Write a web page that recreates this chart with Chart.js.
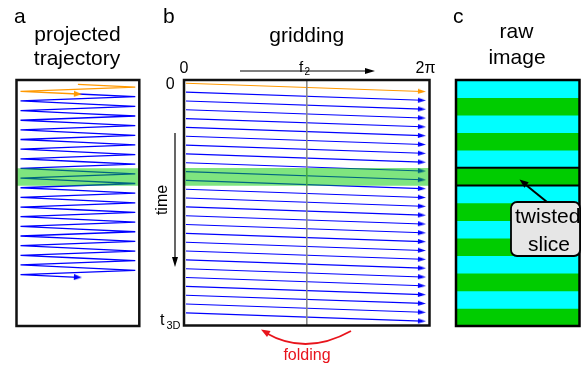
<!DOCTYPE html>
<html>
<head>
<meta charset="utf-8">
<script src="https://cdn.jsdelivr.net/npm/chart.js@4.4.1/dist/chart.umd.min.js"></script>
<style>
    html, body { margin: 0; padding: 0; background: #fff; }
    #wrap { position: relative; width: 581px; height: 367px; overflow: hidden; }
    #wrap canvas { position: absolute; left: 0; top: 0; }
</style>
</head>
<body>
<div id="wrap">
    <canvas id="chart-a" width="581" height="367"></canvas>
    <canvas id="chart-b" width="581" height="367"></canvas>
    <canvas id="chart-c" width="581" height="367"></canvas>
</div>
<script>
// ---- data ----
// a: projected trajectory, one zig-zag per period (first one orange)
const periods = [0, 1, 2, 3, 4, 5, 6, 7, 8, 9, 10, 11, 12, 13, 14, 15, 16, 17, 18, 19];
const passPhase = [0, 0.28, 0.72, 1];   // mid -> right turn -> left turn -> mid
const passX = [0, 1, -1, 0];
const bandA = [8.7, 10.5];
const xRangeA = [-1.07, 1.07];
const yRangeA = [-0.45, 25.05];

// b: gridding, one row per period, phase 0..2pi
const rows = [0, 1, 2, 3, 4, 5, 6, 7, 8, 9, 10, 11, 12, 13, 14, 15, 16, 17, 18, 19, 20, 21, 22, 23, 24, 25, 26];
const rowPhaseStart = 0.05;
const rowPhaseEnd = 6.09;
const rowDrop = 0.93;
const bandB = [9.6, 11.6];
const xRangeB = [0, 2 * Math.PI];
const yRangeB = [-0.37, 27.43];

// c: raw image stripes (each stripe = two rows), the twisted one
const stripes = [1, 1, 1, 1, 1, 1, 1, 1, 1, 1, 1, 1, 1, 1];
const twistedStripe = 5;

// ---- styles ----
const FONT = '"Liberation Sans", Arial, Helvetica, sans-serif';
const ORANGE = '#ff9900';
const BLUE = '#0000ff';
const BAND = 'rgba(0, 204, 0, 0.5)';
const CYAN = '#00ffff';
const GREEN = '#00cc00';
const RED = '#e8141c';

function text(ctx, str, x, y, size, align, color) {
    ctx.save();
    ctx.font = size + 'px ' + FONT;
    ctx.fillStyle = color || '#000';
    ctx.textAlign = align || 'left';
    ctx.textBaseline = 'alphabetic';
    ctx.fillText(str, x, y);
    ctx.restore();
}

function arrowHead(ctx, x, y, angle, len, wid, color) {
    ctx.save();
    ctx.translate(x, y);
    ctx.rotate(angle);
    ctx.beginPath();
    ctx.moveTo(0, 0);
    ctx.lineTo(-len, -wid / 2);
    ctx.lineTo(-len, wid / 2);
    ctx.closePath();
    ctx.fillStyle = color;
    ctx.fill();
    ctx.restore();
}

function arrowImage(color, len, wid) {
    const c = document.createElement('canvas');
    c.width = len;
    c.height = wid;
    const g = c.getContext('2d');
    g.fillStyle = color;
    g.beginPath();
    g.moveTo(0, 0);
    g.lineTo(len, wid / 2);
    g.lineTo(0, wid);
    g.closePath();
    g.fill();
    return c;
}

function frame(chart, color, width) {
    const ctx = chart.ctx, a = chart.chartArea;
    ctx.save();
    ctx.strokeStyle = color;
    ctx.lineWidth = width;
    ctx.strokeRect(a.left, a.top, a.right - a.left, a.bottom - a.top);
    ctx.restore();
}

// arrow head only on the last point of a dataset
const lastOnly = (r) => (ctx) => ctx.dataIndex === ctx.dataset.data.length - 1 ? r : 0;

function baseOptions(padding, xr, yr) {
    return {
        responsive: false,
        animation: false,
        layout: { padding: padding },
        plugins: { legend: { display: false }, tooltip: { enabled: false } },
        scales: {
            x: { type: 'linear', display: false, min: xr[0], max: xr[1] },
            y: { type: 'linear', display: false, min: yr[0], max: yr[1], reverse: true }
        }
    };
}

function bandDatasets(band, xr) {
    return [
        { data: [{ x: xr[0], y: band[0] }, { x: xr[1], y: band[0] }], borderWidth: 0, pointRadius: 0, fill: false, order: -1 },
        { data: [{ x: xr[0], y: band[1] }, { x: xr[1], y: band[1] }], borderWidth: 0, pointRadius: 0, fill: '-1', backgroundColor: BAND, order: -1 }
    ];
}

// ---- panel a ----
function periodPoints(k) {
    return passPhase.map((p, i) => ({ x: passX[i], y: k + p }));
}
const orangeA = periodPoints(periods[0]);
const blueA = periods.slice(1).flatMap((k, i) => i === 0 ? periodPoints(k) : periodPoints(k).slice(1));

function trajDataset(points, color, arrow) {
    return {
        data: points,
        borderColor: color,
        borderWidth: 1.3,
        tension: 0,
        pointStyle: arrow,
        pointRadius: lastOnly(4),
        pointRotation: 2.7,
        pointBorderWidth: 0
    };
}

new Chart(document.getElementById('chart-a'), {
    type: 'line',
    data: {
        datasets: [
            ...bandDatasets(bandA, xRangeA),
            trajDataset(orangeA, ORANGE, arrowImage(ORANGE, 8, 6)),
            trajDataset(blueA, BLUE, arrowImage(BLUE, 8, 6))
        ]
    },
    options: baseOptions({ left: 16.5, right: 441.7, top: 80, bottom: 41 }, xRangeA, yRangeA),
    plugins: [{
        id: 'decorA',
        afterDraw(chart) {
            const ctx = chart.ctx;
            frame(chart, '#111', 2.5);
            text(ctx, 'a', 14, 23, 21);
            text(ctx, 'projected', 77.5, 41, 21, 'center');
            text(ctx, 'trajectory', 77, 65, 21, 'center');
        }
    }]
});

// ---- panel b ----
const arrowBlueB = arrowImage(BLUE, 8, 5);
const arrowOrangeB = arrowImage(ORANGE, 8, 5);

const rowDatasets = rows.map((k) => ({
    data: [{ x: rowPhaseStart, y: k }, { x: rowPhaseEnd, y: k + rowDrop }],
    borderColor: k === 0 ? ORANGE : BLUE,
    borderWidth: 1.1,
    pointStyle: k === 0 ? arrowOrangeB : arrowBlueB,
    pointRadius: lastOnly(4),
    pointRotation: 2,
    pointBorderWidth: 0
}));

new Chart(document.getElementById('chart-b'), {
    type: 'line',
    data: {
        datasets: [
            { data: [{ x: Math.PI, y: yRangeB[0] }, { x: Math.PI, y: yRangeB[1] }], borderColor: '#888', borderWidth: 1, pointRadius: 0 },
            ...rowDatasets,
            ...bandDatasets(bandB, xRangeB)
        ]
    },
    options: baseOptions({ left: 184, right: 151.5, top: 80, bottom: 41.5 }, xRangeB, yRangeB),
    plugins: [{
        id: 'decorB',
        afterDraw(chart) {
            const ctx = chart.ctx;
            frame(chart, '#111', 2.5);
            text(ctx, 'b', 163, 23, 21);
            text(ctx, 'gridding', 306.7, 42, 21, 'center');

            // phase axis
            text(ctx, '0', 184, 72.5, 16, 'center');
            text(ctx, '2\u03c0', 425.5, 72.5, 16, 'center');
            text(ctx, 'f', 301, 71.5, 15, 'center');
            text(ctx, '2', 304.5, 74.5, 10);
            ctx.save();
            ctx.strokeStyle = '#000';
            ctx.lineWidth = 1.2;
            ctx.beginPath();
            ctx.moveTo(240, 71);
            ctx.lineTo(367, 71);
            ctx.stroke();
            arrowHead(ctx, 375, 71, 0, 10, 6, '#000');

            // time axis
            ctx.beginPath();
            ctx.moveTo(175, 133);
            ctx.lineTo(175, 258);
            ctx.stroke();
            ctx.restore();
            arrowHead(ctx, 175, 267, Math.PI / 2, 10, 6, '#000');
            text(ctx, '0', 170.3, 88.5, 16, 'center');
            ctx.save();
            ctx.translate(166.5, 200);
            ctx.rotate(-Math.PI / 2);
            text(ctx, 'time', 0, 0, 16, 'center');
            ctx.restore();
            text(ctx, 't', 160, 325, 16);
            text(ctx, '3D', 166.5, 328.5, 11);

            // folding
            ctx.save();
            ctx.strokeStyle = RED;
            ctx.lineWidth = 1.8;
            ctx.beginPath();
            ctx.moveTo(351, 331);
            ctx.quadraticCurveTo(306, 356, 266, 333);
            ctx.stroke();
            ctx.restore();
            arrowHead(ctx, 261, 329.5, Math.atan2(-26, -45), 9, 7, RED);
            text(ctx, 'folding', 307, 360, 16, 'center', RED);
        }
    }]
});

// ---- panel c ----
new Chart(document.getElementById('chart-c'), {
    type: 'bar',
    data: {
        labels: ['raw'],
        datasets: stripes.map((h, i) => ({
            data: [h],
            backgroundColor: i % 2 === 0 ? CYAN : GREEN,
            borderWidth: 0,
            barPercentage: 1,
            categoryPercentage: 1
        }))
    },
    options: {
        responsive: false,
        animation: false,
        layout: { padding: { left: 456, right: 1.5, top: 80, bottom: 41 } },
        plugins: { legend: { display: false }, tooltip: { enabled: false } },
        scales: {
            x: { display: false, stacked: true },
            y: { display: false, stacked: true, min: 0, max: stripes.length, reverse: true }
        }
    },
    plugins: [{
        id: 'decorC',
        afterDraw(chart) {
            const ctx = chart.ctx, a = chart.chartArea, y = chart.scales.y;
            frame(chart, '#000', 2.5);
            text(ctx, 'c', 453, 23, 21);
            text(ctx, 'raw', 516.5, 38, 21, 'center');
            text(ctx, 'image', 517, 64, 21, 'center');

            // borders of the twisted slice
            ctx.save();
            ctx.strokeStyle = '#000';
            ctx.lineWidth = 2;
            [twistedStripe, twistedStripe + 1].forEach((v) => {
                const py = y.getPixelForValue(v);
                ctx.beginPath();
                ctx.moveTo(a.left, py);
                ctx.lineTo(a.right, py);
                ctx.stroke();
            });

            // callout
            const bx = 511, by = 202, bw = 69, bh = 54, r = 6;
            ctx.beginPath();
            ctx.moveTo(bx + r, by);
            ctx.lineTo(bx + bw - r, by);
            ctx.arcTo(bx + bw, by, bx + bw, by + r, r);
            ctx.lineTo(bx + bw, by + bh - r);
            ctx.arcTo(bx + bw, by + bh, bx + bw - r, by + bh, r);
            ctx.lineTo(bx + r, by + bh);
            ctx.arcTo(bx, by + bh, bx, by + bh - r, r);
            ctx.lineTo(bx, by + r);
            ctx.arcTo(bx, by, bx + r, by, r);
            ctx.closePath();
            ctx.fillStyle = '#e6e6e6';
            ctx.fill();
            ctx.lineWidth = 1.8;
            ctx.stroke();

            ctx.lineWidth = 2;
            ctx.beginPath();
            ctx.moveTo(547, 202);
            ctx.lineTo(526, 185);
            ctx.stroke();
            ctx.restore();
            arrowHead(ctx, 519.5, 179.5, Math.atan2(-22, -28), 9, 7, '#000');

            text(ctx, 'twisted', 515, 223, 21);
            text(ctx, 'slice', 549, 251, 21, 'center');
        }
    }]
});
</script>
</body>
</html>
